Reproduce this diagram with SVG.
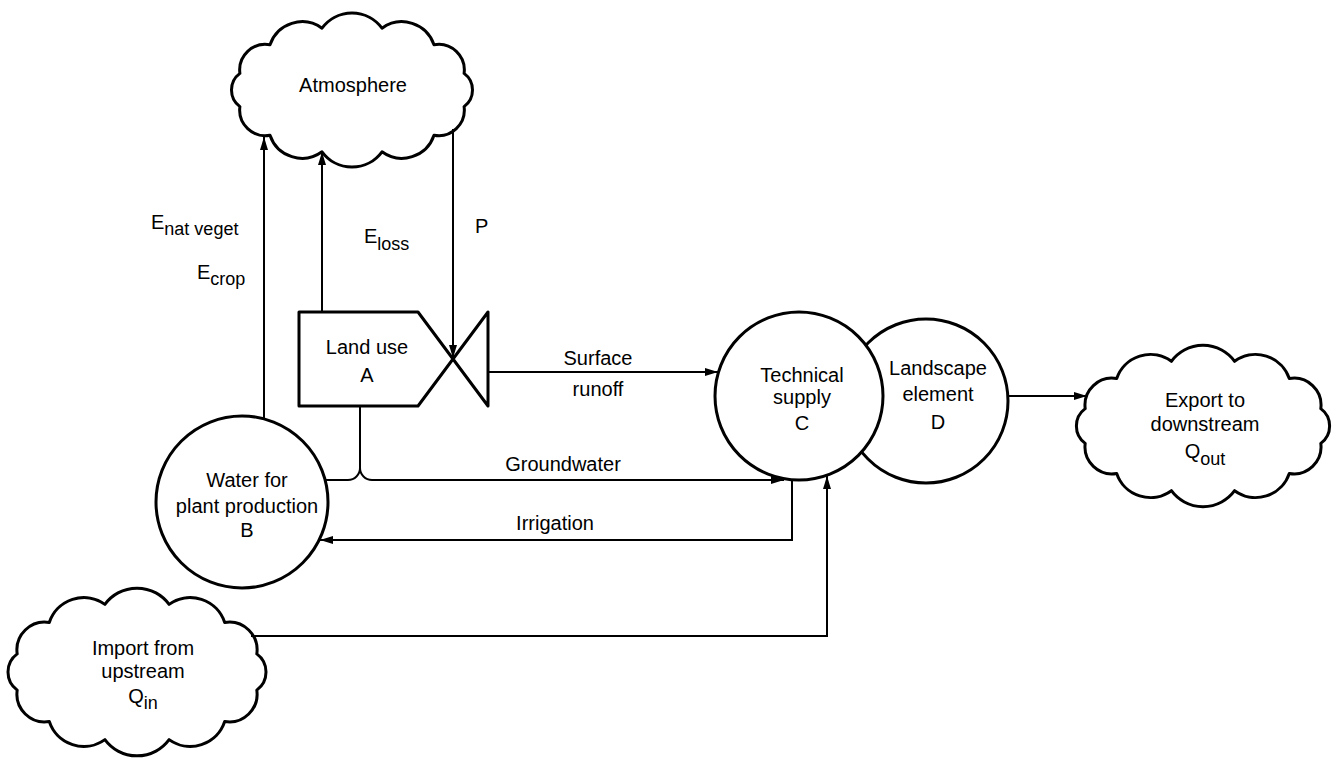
<svg xmlns="http://www.w3.org/2000/svg" width="1332" height="758" viewBox="0 0 1332 758">
<style>
  .shape{fill:#fff;stroke:#000;stroke-width:3;stroke-linejoin:round}
  .line{fill:none;stroke:#000;stroke-width:2}
  text{font-family:"Liberation Sans",Arial,sans-serif;font-size:20px;fill:#000;text-anchor:middle}
  .lbl{text-anchor:start}
  .sub{font-size:18px}
</style>
<defs>
  <marker id="arr" markerUnits="userSpaceOnUse" markerWidth="14" markerHeight="10" refX="13" refY="4" orient="auto">
    <path d="M0,0 L13,4 L0,8 Z" fill="#000"/>
  </marker>
</defs>
<rect width="1332" height="758" fill="#fff"/>

<g id="atmosphere">
  <path class="shape" d="M464.1,106.6 A25.7,25.7 0 0 1 434,135.2 A33.9,33.9 0 0 1 382,151.8 A37.2,37.2 0 0 1 322,151.8 A33.9,33.9 0 0 1 270,135.2 A25.7,25.7 0 0 1 239.9,106.6 A20.6,20.6 0 0 1 239.9,73.4 A25.7,25.7 0 0 1 270,44.8 A33.9,33.9 0 0 1 322,28.2 A37.2,37.2 0 0 1 382,28.2 A33.9,33.9 0 0 1 434,44.8 A25.7,25.7 0 0 1 464.1,73.4 A20.6,20.6 0 0 1 464.1,106.6 Z"/>
  <text x="353" y="92">Atmosphere</text>
</g>

<g id="export">
  <path class="shape" d="M1320.8,443.4 A27,27 0 0 1 1289.3,473.4 A35.6,35.6 0 0 1 1234.6,490.7 A39.2,39.2 0 0 1 1171.4,490.7 A35.6,35.6 0 0 1 1116.7,473.4 A27,27 0 0 1 1085.2,443.4 A21.6,21.6 0 0 1 1085.2,408.6 A27,27 0 0 1 1116.7,378.6 A35.6,35.6 0 0 1 1171.4,361.3 A39.2,39.2 0 0 1 1234.6,361.3 A35.6,35.6 0 0 1 1289.3,378.6 A27,27 0 0 1 1320.8,408.6 A21.6,21.6 0 0 1 1320.8,443.4 Z"/>
  <text x="1205" y="407">Export to</text>
  <text x="1205" y="431">downstream</text>
  <text x="1205" y="458">Q<tspan class="sub" dy="7">out</tspan></text>
</g>

<g id="import">
  <path class="shape" d="M256.8,690.1 A27.8,27.8 0 0 1 224.7,721.5 A36.3,36.3 0 0 1 169.1,739.6 A39.8,39.8 0 0 1 104.9,739.6 A36.3,36.3 0 0 1 49.3,721.5 A27.8,27.8 0 0 1 17.2,690.1 A22.4,22.4 0 0 1 17.2,653.9 A27.8,27.8 0 0 1 49.3,622.5 A36.3,36.3 0 0 1 104.9,604.4 A39.8,39.8 0 0 1 169.1,604.4 A36.3,36.3 0 0 1 224.7,622.5 A27.8,27.8 0 0 1 256.8,653.9 A22.4,22.4 0 0 1 256.8,690.1 Z"/>
  <text x="143" y="655">Import from</text>
  <text x="143" y="678">upstream</text>
  <text x="143" y="703">Q<tspan class="sub" dy="6">in</tspan></text>
</g>

<g id="landscape-d">
  <circle class="shape" cx="926" cy="401" r="82"/>
  <text x="938" y="375">Landscape</text>
  <text x="938" y="401">element</text>
  <text x="938" y="429">D</text>
</g>

<g id="technical-c">
  <circle class="shape" cx="799" cy="396" r="84"/>
  <text x="802" y="382">Technical</text>
  <text x="802" y="404">supply</text>
  <text x="802" y="430">C</text>
</g>

<g id="water-b">
  <circle class="shape" cx="242" cy="502" r="86"/>
  <text x="247" y="487">Water for</text>
  <text x="247" y="513">plant production</text>
  <text x="247" y="537">B</text>
</g>

<g id="landuse-a">
  <path class="shape" d="M299,312 H418 L453,359 L418,406 H299 Z"/>
  <path class="shape" d="M453,359 L488,312 V406 Z"/>
  <text x="367" y="354">Land use</text>
  <text x="367" y="382">A</text>
</g>

<g id="connectors">
  <path class="line" d="M264,420 V137" marker-end="url(#arr)"/>
  <path class="line" d="M322,312 V152" marker-end="url(#arr)"/>
  <path class="line" d="M453,129 V358" marker-end="url(#arr)"/>
  <path class="line" d="M488,372 H718" marker-end="url(#arr)"/>
  <path class="line" d="M360,406 V468"/>
  <path class="line" d="M325,480 H348 A12,12 0 0 0 360,468 A12,12 0 0 0 372,480 H784" marker-end="url(#arr)"/>
  <path class="line" d="M792,480 V540 H320" marker-end="url(#arr)"/>
  <path class="line" d="M251,636 H827 V476" marker-end="url(#arr)"/>
  <path class="line" d="M1008,396 H1087" marker-end="url(#arr)"/>
</g>

<g id="labels">
  <text class="lbl" x="151" y="229">E<tspan class="sub" dy="6">nat veget</tspan></text>
  <text class="lbl" x="197" y="279">E<tspan class="sub" dy="6">crop</tspan></text>
  <text class="lbl" x="364" y="243">E<tspan class="sub" dy="7">loss</tspan></text>
  <text class="lbl" x="475" y="233">P</text>
  <text x="598" y="365">Surface</text>
  <text x="598" y="396">runoff</text>
  <text x="563" y="471">Groundwater</text>
  <text x="555" y="530">Irrigation</text>
</g>
</svg>
